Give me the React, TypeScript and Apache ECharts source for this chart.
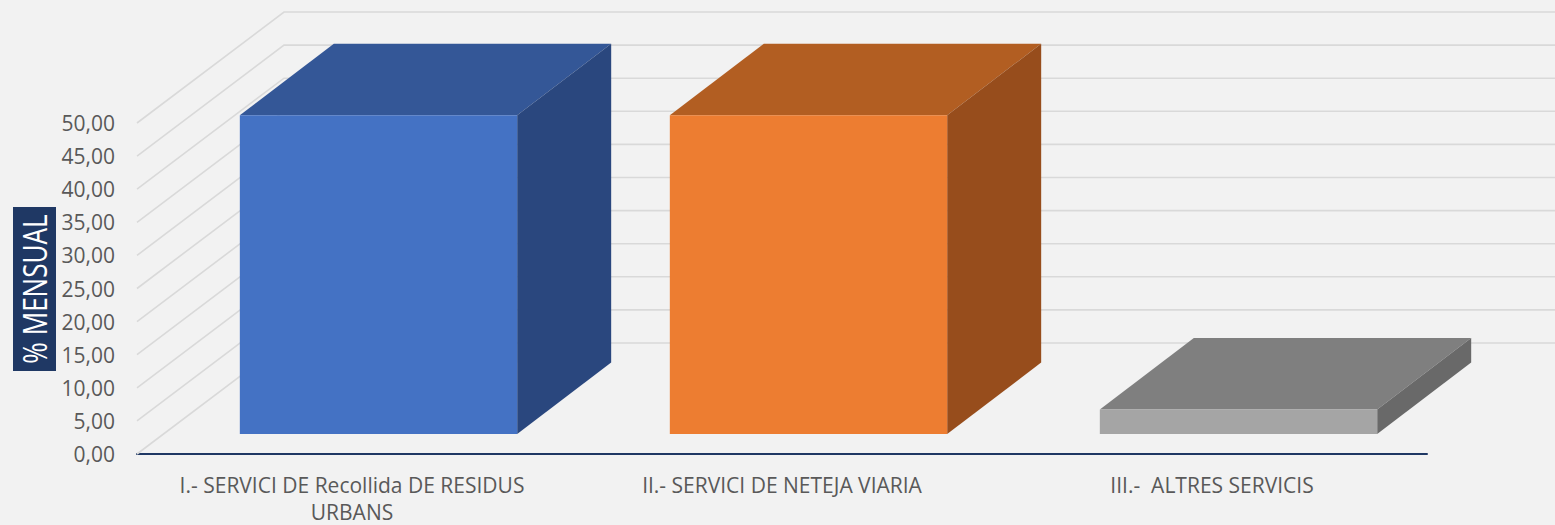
import React, { useEffect, useRef } from "react";
import * as echarts from "echarts";

const categories = [
  "I.- SERVICI DE Recollida DE RESIDUS\nURBANS",
  "II.- SERVICI DE NETEJA VIARIA",
  "III.-  ALTRES SERVICIS",
];
const values = [48.15, 48.15, 3.7];
const ticks = [0, 5, 10, 15, 20, 25, 30, 35, 40, 45, 50];
const axisTitle = "% MENSUAL";
const frontColors = ["#4472c4", "#ed7d31", "#a5a5a5"];
const topColors = ["#345797", "#b25e22", "#7f7f7f"];
const sideColors = ["#2a477e", "#974d1c", "#696969"];

const FONT = "'Open Sans', sans-serif";
const WALL_DX = 147;
const WALL_DY = -111;
const BAR_DX = 94;
const BAR_DY = -71.5;
const FRONT_DX = 26.5;
const FRONT_DY = -20;
const BAR_RATIO = 0.645;

export default function App() {
  const ref = useRef<HTMLDivElement>(null);
  useEffect(() => {
    document.body.style.margin = "0";
    const chart = echarts.init(ref.current!, null, { renderer: "svg" });
    chart.setOption({
      animation: false,
      backgroundColor: "#f2f2f2",
      grid: { left: 137, right: 128, top: 123, bottom: 71, outerBoundsMode: "none" },
      graphic: [
        {
          type: "rect",
          z: 10,
          shape: { x: 13, y: 207, width: 43, height: 164 },
          style: { fill: "#1f3864" },
        },
        {
          type: "text",
          z: 11,
          x: 34.5,
          y: 289,
          rotation: Math.PI / 2,
          scaleX: 0.815,
          style: {
            text: axisTitle,
            fill: "#ffffff",
            fontFamily: FONT,
            fontSize: 32,
            align: "center",
            verticalAlign: "middle",
          },
        },
      ],
      xAxis: {
        type: "category",
        data: categories,
        axisLine: { show: true, lineStyle: { color: "#1f3864", width: 2 } },
        axisTick: { show: false },
        axisLabel: {
          color: "#595959",
          fontFamily: FONT,
          fontSize: 21,
          lineHeight: 27,
          margin: 17,
          interval: 0,
        },
      },
      yAxis: {
        type: "value",
        min: 0,
        max: 50,
        interval: 5,
        splitLine: { show: false },
        axisLine: { show: false },
        axisTick: { show: false },
        axisLabel: {
          color: "#595959",
          fontFamily: FONT,
          fontSize: 21,
          margin: 22,
          padding: [7, 0, 0, 0],
          formatter: (v: number) => v.toFixed(2).replace(".", ","),
        },
      },
      series: [
        {
          type: "custom",
          clip: false,
          silent: true,
          z: 1,
          data: ticks.map((t) => [0, t]),
          renderItem: (params: any, api: any) => {
            const y = api.coord([0, api.value(1)])[1];
            const left = params.coordSys.x;
            return {
              type: "polyline",
              shape: {
                points: [
                  [left, y],
                  [left + WALL_DX, y + WALL_DY],
                  [api.getWidth(), y + WALL_DY],
                ],
              },
              style: { stroke: "#d9d9d9", lineWidth: 1.6, fill: "none" },
            };
          },
        },
        {
          type: "custom",
          clip: false,
          silent: true,
          z: 2,
          data: values.map((v, i) => [i, v]),
          renderItem: (params: any, api: any) => {
            const i = api.value(0);
            const top = api.coord([i, api.value(1)]);
            const base = api.coord([i, 0]);
            const w = api.size([1, 0])[0] * BAR_RATIO;
            const x0 = top[0] + FRONT_DX - w / 2;
            const x1 = x0 + w;
            const yT = top[1] + FRONT_DY;
            const yB = base[1] + FRONT_DY;
            return {
              type: "group",
              children: [
                {
                  type: "polygon",
                  shape: { points: [[x0, yT], [x1, yT], [x1 + BAR_DX, yT + BAR_DY], [x0 + BAR_DX, yT + BAR_DY]] },
                  style: { fill: topColors[i] },
                },
                {
                  type: "polygon",
                  shape: { points: [[x1, yT], [x1 + BAR_DX, yT + BAR_DY], [x1 + BAR_DX, yB + BAR_DY], [x1, yB]] },
                  style: { fill: sideColors[i] },
                },
                {
                  type: "polygon",
                  shape: { points: [[x0, yT], [x1, yT], [x1, yB], [x0, yB]] },
                  style: { fill: frontColors[i] },
                },
              ],
            };
          },
        },
      ],
    });
    return () => chart.dispose();
  }, []);
  return <div ref={ref} style={{ width: 1555, height: 525 }} />;
}
